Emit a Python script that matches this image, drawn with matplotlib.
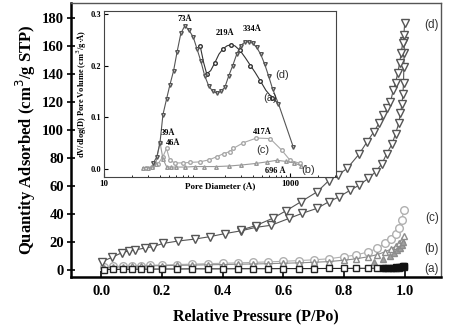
import matplotlib
matplotlib.use("Agg")
import matplotlib.pyplot as plt

# ---- main isotherms: relative pressure vs quantity adsorbed ----
p_d_ads = [0.002, 0.035, 0.068, 0.09, 0.11, 0.144, 0.17, 0.204, 0.253, 0.308, 0.357, 0.407, 0.46, 0.51,
           0.56, 0.62, 0.663, 0.71, 0.75, 0.784, 0.82, 0.85, 0.88, 0.904, 0.925, 0.94, 0.958, 0.97, 0.98,
           0.986, 0.991, 0.994, 0.996, 0.997, 0.998, 0.999]
v_d_ads = [6, 9, 12.4, 13.6, 14.3, 15.7, 16.7, 19, 20.7, 22.1, 23.8, 26, 28, 30.5,
           32, 37, 40.6, 44, 48.8, 52.4, 57, 60.7, 65.5, 70.2, 76, 83, 90, 97.6, 104.8,
           112, 119, 126, 134, 145, 155, 164]
p_d_des = [0.46, 0.51, 0.565, 0.61, 0.658, 0.712, 0.75, 0.78, 0.81, 0.85, 0.876, 0.898, 0.915, 0.93,
           0.942, 0.953, 0.962, 0.97, 0.977, 0.983, 0.988, 0.993, 0.997, 1.0]
v_d_des = [28.6, 31.8, 37, 42.5, 48.8, 56, 64, 68, 72.6, 83, 91.7, 98.8, 104.8, 110.7,
           115.5, 120, 128.6, 134, 141, 148, 155, 162, 168, 177]

p_main = [0.01, 0.04, 0.07, 0.1, 0.13, 0.16, 0.2, 0.25, 0.3, 0.35, 0.4, 0.45, 0.5, 0.55, 0.6,
          0.65, 0.7, 0.75, 0.8, 0.84, 0.88, 0.91, 0.935, 0.955, 0.97, 0.98, 0.99, 0.998]
v_c = [2, 2.5, 2.8, 3, 3.2, 3.4, 3.6, 3.9, 4.2, 4.5, 4.8, 5.1, 5.4, 5.8, 6.2,
       6.7, 7.3, 8, 9.5, 10.7, 13, 15.5, 19, 22, 26, 30, 36, 43]
v_b = [1.5, 2, 2.3, 2.5, 2.7, 2.9, 3.1, 3.3, 3.5, 3.7, 3.9, 4.1, 4.3, 4.5, 4.8,
       5.1, 5.5, 6, 7, 8, 9.5, 11, 13, 15, 17, 19, 21.5, 24]
p_b_des = [0.9, 0.93, 0.95, 0.965, 0.975, 0.985, 0.99, 0.995]
v_b_des = [6, 8, 10, 12, 14, 16, 18, 20]
v_a = [0.3, 0.4, 0.5, 0.5, 0.6, 0.6, 0.7, 0.7, 0.8, 0.8, 0.8, 0.9, 0.9, 0.9, 1.0,
       1.0, 1.0, 1.1, 1.1, 1.2, 1.2, 1.3, 1.4, 1.5, 1.6, 1.7, 1.9, 2.2]
p_a_des = [0.93, 0.945, 0.96, 0.97, 0.98, 0.988, 0.994, 0.998]
v_a_des = [1.2, 1.4, 1.6, 1.8, 2.0, 2.3, 2.6, 3.0]

# ---- inset: pore size distribution ----
d_d = [34, 37, 40, 43, 47, 51, 56, 61, 67, 74, 82, 91, 100, 110, 121, 134, 148, 163, 180, 199,
       219, 242, 267, 294, 325, 359, 396, 437, 482, 532, 587, 648, 750, 1080]
pv_d = [0.012, 0.024, 0.051, 0.105, 0.135, 0.162, 0.190, 0.226, 0.262, 0.277, 0.268, 0.255, 0.232,
        0.208, 0.180, 0.160, 0.150, 0.147, 0.150, 0.158, 0.180, 0.200, 0.222, 0.238, 0.245, 0.246,
        0.243, 0.235, 0.222, 0.203, 0.180, 0.155, 0.126, 0.043]
d_a = [108, 118, 127, 140, 155, 172, 190, 210, 230, 255, 290, 330, 375, 420, 480, 550, 640, 750]
pv_a = [0.238, 0.205, 0.184, 0.190, 0.205, 0.222, 0.232, 0.238, 0.240, 0.238, 0.229, 0.215, 0.200,
        0.187, 0.170, 0.152, 0.138, 0.126]
d_c = [28, 33, 38, 43, 47, 51, 58, 70, 85, 107, 135, 163, 193, 226, 245, 315, 435, 609, 810, 1000, 1280]
pv_c = [0.003, 0.004, 0.010, 0.024, 0.040, 0.017, 0.012, 0.012, 0.013, 0.014, 0.018, 0.024, 0.030,
        0.034, 0.040, 0.051, 0.060, 0.059, 0.037, 0.017, 0.011]
d_b = [26, 30, 33, 36, 40, 43, 47, 52, 60, 75, 95, 120, 160, 220, 300, 430, 560, 720, 900, 1100, 1300]
pv_b = [0.003, 0.003, 0.004, 0.010, 0.052, 0.020, 0.005, 0.004, 0.004, 0.004, 0.005, 0.005, 0.005,
        0.006, 0.008, 0.011, 0.014, 0.017, 0.015, 0.012, 0.007]

serif = "Liberation Serif"
sans = "Liberation Sans"

fig = plt.figure(figsize=(4.52, 3.27), dpi=100)
ax = fig.add_axes([0.157, 0.153, 0.819, 0.838])

mk = dict(markerfacecolor="white", linewidth=0.8)
ax.plot(p_main, v_c, "o", color="#b0b0b0", markersize=5.5, linestyle="-", **mk)
ax.plot(p_main, v_b, "^", color="#8c8c8c", markersize=4.5, linestyle="-", **mk)
ax.plot(p_b_des, v_b_des, "^", color="#8c8c8c", markerfacecolor="#a0a0a0", markersize=4.5, linewidth=0.8)
ax.plot(p_main, v_a, "s", color="#222222", markersize=4.2, linestyle="-", **mk)
ax.plot(p_a_des, v_a_des, "s", color="#111111", markerfacecolor="#111111", markersize=4, linewidth=0.8)
ax.plot(p_d_ads, v_d_ads, "v", color="#555555", markersize=5.3, linestyle="-", **mk)
ax.plot(p_d_des, v_d_des, "v", color="#555555", markersize=5.3, linestyle="-", **mk)

for lab, yv in [("(d)", 175), ("(c)", 37), ("(b)", 15), ("(a)", 0.7)]:
    ax.text(1.089, yv, lab, fontfamily=sans, fontsize=8.5, color="#333333", ha="center", va="center")

ax.set_xlim(-0.1, 1.12)
ax.set_ylim(-5, 191)
ax.set_xticks([0.0, 0.2, 0.4, 0.6, 0.8, 1.0])
ax.set_yticks(range(0, 181, 20))
ax.set_xticklabels([f"{t:.1f}" for t in ax.get_xticks()], fontfamily=serif, fontweight="bold", fontsize=10.5)
ax.set_yticklabels([str(t) for t in range(0, 181, 20)], fontfamily=serif, fontweight="bold", fontsize=10.5)
ax.tick_params(axis="x", direction="in", length=4, width=1.2, pad=6)
ax.tick_params(axis="y", direction="inout", length=6, width=1.2, pad=2)
ax.set_xlabel("Relative Pressure (P/Po)", fontfamily=serif, fontweight="bold", fontsize=11.5, labelpad=7)
ax.set_ylabel("Quantity Adsorbed (cm$^3$/g STP)", fontfamily=serif, fontweight="bold", fontsize=12, labelpad=3)
for s in ["left", "bottom"]:
    ax.spines[s].set_linewidth(1.8)
for s in ["top", "right"]:
    ax.spines[s].set_linewidth(1.0)
    ax.spines[s].set_color("#555555")

# ---- inset ----
ins = fig.add_axes([0.230, 0.459, 0.513, 0.507])
sm = dict(markerfacecolor="white", linewidth=0.8, markersize=2.6)
ins.plot(d_c, pv_c, "o-", color="#a8a8a8", **sm)
ins.plot(d_b, pv_b, "^-", color="#999999", **sm)
ins.plot(d_a, pv_a, "o-", color="#333333", markevery=2, **sm)
ins.plot(d_d, pv_d, "v-", color="#555555", **sm)
ins.set_xscale("log")
ins.set_xlim(10, 3100)
ins.set_ylim(-0.015, 0.305)
ins.set_yticks([0.0, 0.1, 0.2, 0.3])
ins.set_yticklabels(["0.0", "0.1", "0.2", "0.3"], fontfamily=serif, fontweight="bold", fontsize=6)
ins.set_xticks([10, 1000])
ins.set_xticklabels(["10", "1000"], fontfamily=serif, fontweight="bold", fontsize=6.5)
ins.tick_params(which="both", direction="in", pad=2)
ins.tick_params(which="major", length=3, width=0.8)
ins.tick_params(which="minor", length=1.5, width=0.6)
ins.set_xlabel("Pore Diameter (Å)", fontfamily=serif, fontweight="bold", fontsize=6.5)
ins.xaxis.set_label_coords(0.5, -0.035)
ins.set_ylabel("dV/dlog(D) Pore Volume (cm$^3$/g·Å)", fontfamily=serif, fontweight="bold", fontsize=6, labelpad=1)
for s in ins.spines.values():
    s.set_linewidth(0.8)
    s.set_color("#444444")

notes = [("73Å", 74, 0.290), ("219Å", 200, 0.262), ("334Å", 390, 0.271), ("39Å", 49, 0.069),
         ("46Å", 55, 0.050), ("417Å", 500, 0.071), ("696 Å", 690, -0.004)]
for txt, dx, dy in notes:
    ins.text(dx, dy, txt, fontfamily=serif, fontweight="bold", fontsize=6, ha="center", va="center")
for txt, dx, dy in [("(d)", 820, 0.181), ("(a)", 610, 0.138), ("(c)", 510, 0.037), ("(b)", 1560, -0.002)]:
    ins.text(dx, dy, txt, fontfamily=sans, fontsize=8, color="#333333", ha="center", va="center")

fig.savefig("out.png", dpi=100)
